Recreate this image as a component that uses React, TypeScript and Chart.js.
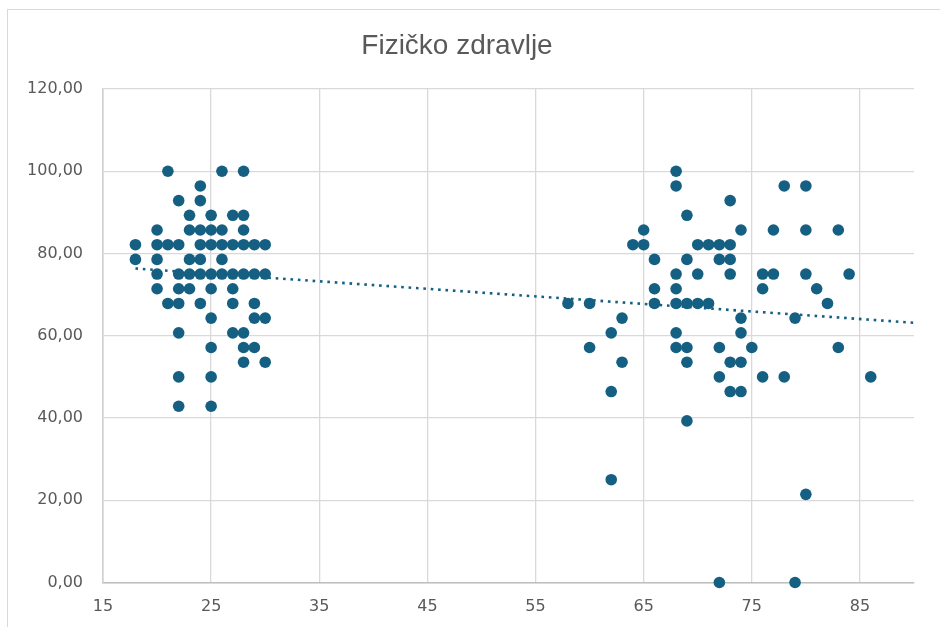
import React, { useEffect, useRef } from "react";
import { Chart, registerables } from "chart.js";

Chart.register(...registerables);

const TITLE = "Fizičko zdravlje";

// ages (x) and the scores observed at each age (y)
const AGES = [
  18, 20, 21, 22, 23, 24, 25, 26, 27, 28, 29, 30,
  58, 60, 62, 63, 64, 65, 66, 68, 69, 70, 71, 72, 73, 74, 75, 76, 77, 78, 79, 80, 81, 82, 83, 84, 86,
];

const SCORES_BY_AGE: number[][] = [
  [82.14, 78.57], // 18
  [85.71, 82.14, 78.57, 75, 71.43], // 20
  [100, 82.14, 67.86], // 21
  [92.86, 82.14, 75, 71.43, 67.86, 60.71, 50, 42.86], // 22
  [89.29, 85.71, 78.57, 75, 71.43], // 23
  [96.43, 92.86, 85.71, 82.14, 78.57, 75, 67.86], // 24
  [89.29, 85.71, 82.14, 75, 71.43, 64.29, 57.14, 50, 42.86], // 25
  [100, 85.71, 82.14, 78.57, 75], // 26
  [89.29, 82.14, 75, 71.43, 67.86, 60.71], // 27
  [100, 89.29, 85.71, 82.14, 75, 60.71, 57.14, 53.57], // 28
  [82.14, 75, 67.86, 64.29, 57.14], // 29
  [82.14, 75, 64.29, 53.57], // 30
  [67.86], // 58
  [67.86, 57.14], // 60
  [60.71, 46.43, 25], // 62
  [64.29, 53.57], // 63
  [82.14], // 64
  [85.71, 82.14], // 65
  [78.57, 71.43, 67.86], // 66
  [100, 96.43, 75, 71.43, 67.86, 60.71, 57.14], // 68
  [89.29, 78.57, 67.86, 57.14, 53.57, 39.29], // 69
  [82.14, 75, 67.86], // 70
  [82.14, 67.86], // 71
  [82.14, 78.57, 57.14, 50, 0], // 72
  [92.86, 82.14, 78.57, 75, 53.57, 46.43], // 73
  [85.71, 64.29, 60.71, 53.57, 46.43], // 74
  [57.14], // 75
  [75, 71.43, 50], // 76
  [85.71, 75], // 77
  [96.43, 50], // 78
  [64.29, 0], // 79
  [96.43, 85.71, 75, 21.43], // 80
  [71.43], // 81
  [67.86], // 82
  [85.71, 57.14], // 83
  [75], // 84
  [50], // 86
];

const X_MIN = 15;
const X_MAX = 90;
const X_TICKS = [15, 25, 35, 45, 55, 65, 75, 85];
const Y_TICKS = [0, 20, 40, 60, 80, 100, 120];

const COLOR = "#156082";

export default function App() {
  const ref = useRef<HTMLCanvasElement | null>(null);

  useEffect(() => {
    if (!ref.current) return;
    const points = AGES.flatMap((a, i) => SCORES_BY_AGE[i].map((y) => ({ x: a, y })));

    // linear least-squares trendline (as Excel's "Linear" trendline)
    const n = points.length;
    const mx = points.reduce((s, p) => s + p.x, 0) / n;
    const my = points.reduce((s, p) => s + p.y, 0) / n;
    let sxy = 0;
    let sxx = 0;
    points.forEach((p) => {
      sxy += (p.x - mx) * (p.y - my);
      sxx += (p.x - mx) * (p.x - mx);
    });
    const slope = sxy / sxx;
    const icpt = my - slope * mx;
    const minAge = Math.min(...AGES);
    const trend = [
      { x: minAge, y: icpt + slope * minAge },
      { x: X_MAX, y: icpt + slope * X_MAX },
    ];

    const tickFont = { family: "'DejaVu Sans', sans-serif", size: 16 };

    const chart = new Chart(ref.current, {
      type: "scatter",
      data: {
        datasets: [
          {
            label: TITLE,
            data: points,
            backgroundColor: COLOR,
            borderColor: COLOR,
            pointRadius: 5.8,
            pointBorderWidth: 0,
            pointHoverRadius: 5.8,
            order: 0,
            clip: false,
          } as any,
          {
            type: "line",
            label: "Linear",
            data: trend,
            borderColor: COLOR,
            borderWidth: 2.6,
            borderDash: [2.6, 4.8],
            pointRadius: 0,
            fill: false,
            showLine: true,
            order: 1,
          } as any,
        ],
      },
      options: {
        animation: false,
        responsive: false,
        devicePixelRatio: 1,
        layout: { padding: { left: 0, right: 26, top: 0, bottom: 0 } },
        plugins: {
          legend: { display: false },
          tooltip: { enabled: false },
          title: {
            display: true,
            text: TITLE,
            color: "#595959",
            font: { family: "'Liberation Sans', sans-serif", size: 28, weight: "normal", lineHeight: 1.2 },
            padding: { top: 29, bottom: 26.4 },
          },
        },
        scales: {
          x: {
            type: "linear",
            min: X_MIN,
            max: X_MAX,
            afterBuildTicks: (s: any) => {
              s.ticks = X_TICKS.map((v) => ({ value: v }));
            },
            afterFit: (s: any) => {
              s.height = 44.5;
            },
            grid: { color: "#d9d9d9", lineWidth: 1.3, drawTicks: false },
            border: { color: "#bfbfbf", width: 1.6 },
            ticks: { color: "#595959", font: tickFont, padding: 15 },
          },
          y: {
            type: "linear",
            min: 0,
            max: 120,
            afterBuildTicks: (s: any) => {
              s.ticks = Y_TICKS.map((v) => ({ value: v }));
            },
            afterFit: (s: any) => {
              s.width = 103;
            },
            grid: { color: "#d9d9d9", lineWidth: 1.3, drawTicks: false },
            border: { color: "#d0d0d0", width: 1.6 },
            ticks: {
              color: "#595959",
              font: tickFont,
              padding: 20,
              callback: (v: any) => Number(v).toFixed(2).replace(".", ","),
            },
          },
        },
      } as any,
    });
    return () => chart.destroy();
  }, []);

  return (
    <div>
      <div
        style={{
          position: "fixed",
          left: 7,
          top: 9,
          right: 0,
          bottom: 0,
          borderTop: "1.5px solid #d9d9d9",
          borderLeft: "1.5px solid #d9d9d9",
          background: "#ffffff",
        }}
      />
      <canvas
        ref={ref}
        width={940}
        height={627}
        style={{ position: "fixed", left: 0, top: 0, width: 940, height: 627 }}
      />
    </div>
  );
}
